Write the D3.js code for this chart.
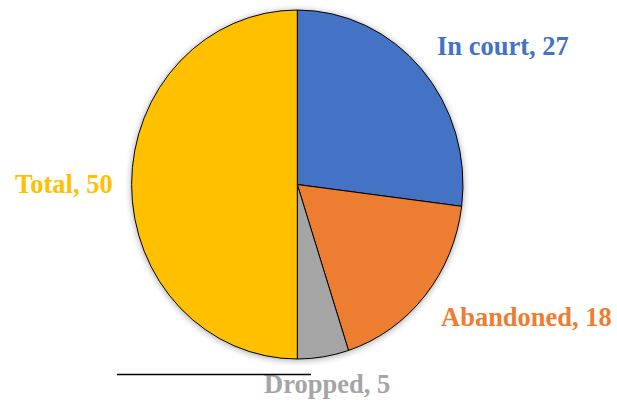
<!DOCTYPE html>
<html>
<head>
<meta charset="utf-8">
<script src="https://cdn.jsdelivr.net/npm/d3@7"></script>
<style>
  body { margin: 0; background: #fff; }
  svg { display: block; }
</style>
</head>
<body>
<div id="container"></div>
<script>
const categories = ["In court", "Abandoned", "Dropped", "Total"];
const values = [27, 18, 5, 50];
const colors = ["#4472C4", "#ED7D31", "#A5A5A5", "#FFC000"];

const width = 617;
const height = 403;
const cx = 297.3, cy = 184.5;
const rx = 165.7, ry = 174.5;

// label anchors (left edge, baseline), placed by hand like the original
const labelPos = [[437, 55], [441, 326], [264, 393], [15, 193]];

const svg = d3.select("#container").append("svg")
  .attr("width", width)
  .attr("height", height);

const defs = svg.append("defs");
defs.append("filter").attr("id", "blur")
  .attr("x", "-10%").attr("y", "-10%").attr("width", "120%").attr("height", "120%")
  .append("feGaussianBlur").attr("stdDeviation", 3);

// soft shadow behind the pie
svg.append("ellipse")
  .attr("cx", cx).attr("cy", cy + 1)
  .attr("rx", rx + 1).attr("ry", ry + 1)
  .attr("fill", "#000")
  .attr("opacity", 0.3)
  .attr("filter", "url(#blur)");

const pie = d3.pie().sort(null).value(d => d);
const arc = d3.arc().innerRadius(0).outerRadius(1);

const g = svg.append("g")
  .attr("transform", `translate(${cx},${cy}) scale(${rx},${ry})`);

g.selectAll("path")
  .data(pie(values))
  .join("path")
  .attr("d", arc)
  .attr("fill", (d, i) => colors[i])
  .attr("stroke", "#000")
  .attr("stroke-width", 1)
  .attr("vector-effect", "non-scaling-stroke");

svg.selectAll("text.lbl")
  .data(categories)
  .join("text")
  .attr("class", "lbl")
  .attr("x", (d, i) => labelPos[i][0])
  .attr("y", (d, i) => labelPos[i][1])
  .attr("fill", (d, i) => colors[i])
  .attr("font-family", "'Liberation Serif', 'Times New Roman', serif")
  .attr("font-weight", "bold")
  .attr("font-size", 26.5)
  .text((d, i) => `${d}, ${values[i]}`);

// stray leader line under the pie
svg.append("line")
  .attr("x1", 117).attr("x2", 311)
  .attr("y1", 374.5).attr("y2", 374.5)
  .attr("stroke", "#000")
  .attr("stroke-width", 1.5);
</script>
</body>
</html>
